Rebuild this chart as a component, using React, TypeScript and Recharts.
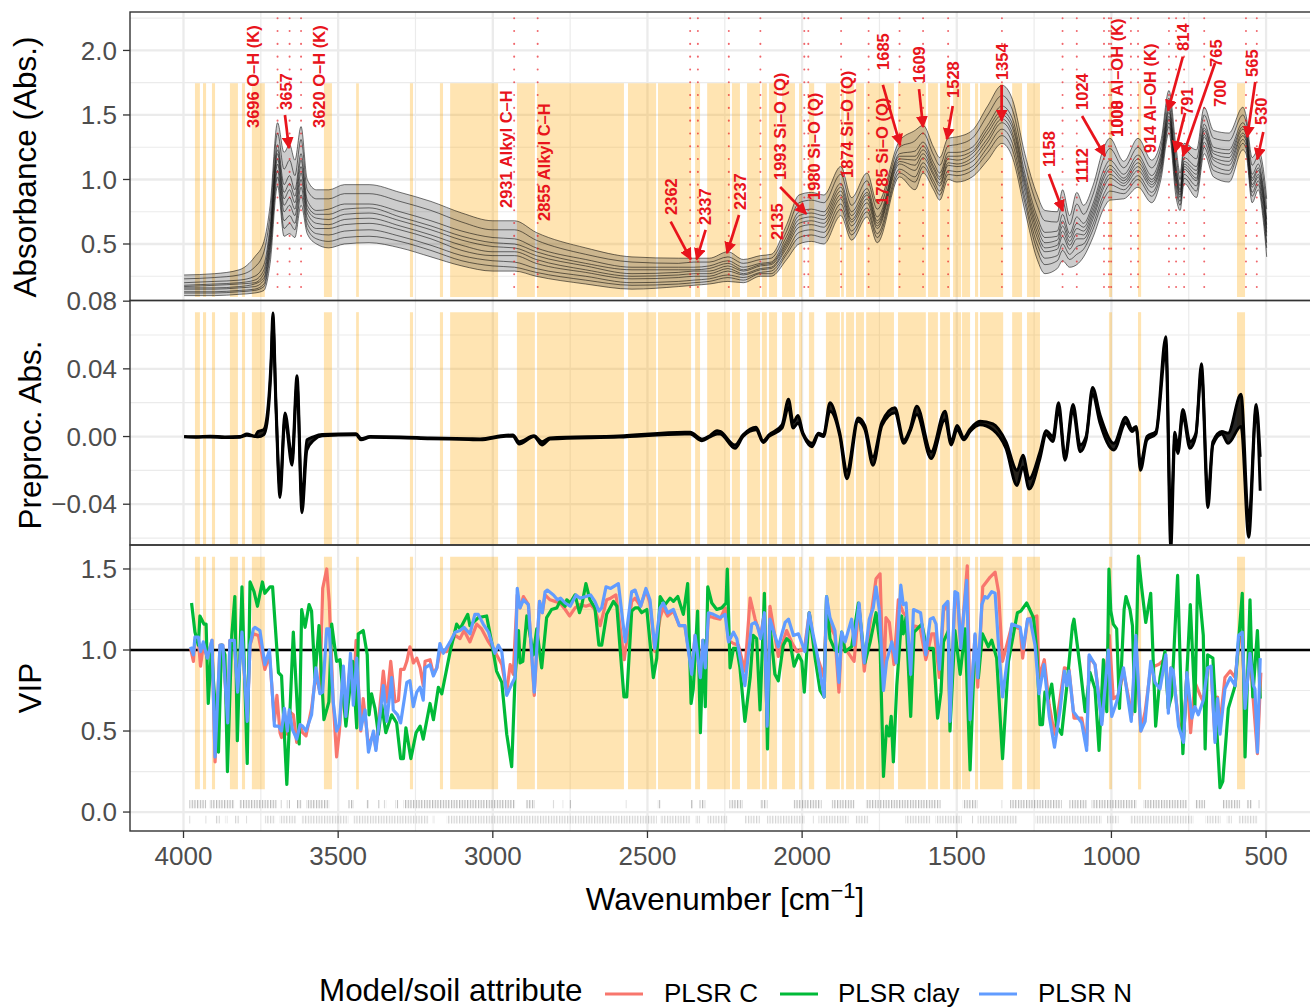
import React from "react";
import {
  ComposedChart, XAxis, YAxis, Line, Area, ReferenceLine, ReferenceArea, ReferenceDot,
} from "recharts";

const FONT = "'Liberation Sans', Arial, sans-serif";
const RED = "#E8141C";

const xTicks = [4000, 3500, 3000, 2500, 2000, 1500, 1000, 500];
const xMinor = [3750, 3250, 2750, 2250, 1750, 1250, 750];

const bands: [number, number][] = [
  [3963, 3947], [3937, 3927], [3908, 3898], [3850, 3824], [3811, 3801], [3779, 3737], [3546, 3520],
  [3442, 3433], [3268, 3258], [3171, 3161], [3138, 2983], [2922, 2864], [2857, 2576], [2563, 2472],
  [2466, 2359], [2346, 2330], [2307, 2233], [2227, 2201], [2178, 2136], [2130, 2114], [2107, 2081],
  [2065, 2023], [2010, 2000], [1978, 1961], [1923, 1878], [1874, 1865], [1858, 1832], [1826, 1800],
  [1793, 1703], [1690, 1600], [1593, 1561], [1554, 1522], [1512, 1486], [1483, 1457], [1441, 1431],
  [1425, 1350], [1321, 1289], [1273, 1231], [1008, 998], [914, 904], [594, 568],
];

const absWn = [3998,3900,3820,3770,3740,3720,3696,3675,3657,3640,3620,3600,3570,3530,3480,3400,3300,3200,3100,3000,2930,2860,2700,2550,2400,2350,2300,2240,2190,2135,2100,2050,2010,1970,1930,1875,1840,1790,1757,1685,1635,1609,1575,1555,1528,1500,1450,1400,1354,1320,1280,1240,1215,1175,1158,1135,1112,1090,1060,1024,1005,960,914,870,840,814,791,778,765,725,700,670,620,575,565,545,525,510,498];
const absLow = [.10,.10,.11,.12,.14,.35,.95,.56,.58,.55,.80,.58,.50,.47,.50,.51,.47,.40,.33,.29,.29,.25,.19,.15,.17,.18,.19,.21,.20,.25,.25,.38,.50,.52,.50,.72,.53,.71,.51,1.02,.92,1.05,.92,.84,1.00,.98,1.02,1.15,1.28,1.17,.76,.38,.27,.31,.37,.32,.34,.40,.55,.78,.84,.85,.94,.82,1.00,1.36,.86,.76,.97,.86,1.20,1.02,.98,1.23,1.20,.82,.92,.70,.40];
const absA = [.12,.12,.13,.14,.17,.42,1.02,.62,.66,.61,.88,.62,.54,.52,.55,.56,.52,.45,.37,.33,.32,.28,.22,.18,.19,.20,.21,.24,.22,.27,.27,.42,.55,.57,.55,.77,.57,.75,.55,1.05,.98,1.10,.96,.88,1.04,1.03,1.07,1.21,1.34,1.23,.82,.45,.34,.37,.45,.38,.42,.46,.61,.85,.91,.89,1.00,.87,1.04,1.41,.92,.80,1.01,.91,1.25,1.07,1.04,1.28,1.24,.87,.96,.75,.47];
const absH = [.13,.13,.14,.15,.19,.46,1.07,.68,.72,.66,.94,.66,.58,.57,.6,.61,.56,.49,.41,.37,.36,.31,.25,.2,.21,.22,.23,.26,.24,.28,.29,.44,.59,.61,.59,.81,.6,.78,.58,1.08,1.02,1.13,.99,.91,1.07,1.06,1.1,1.25,1.39,1.28,.86,.5,.39,.41,.5,.42,.48,.5,.65,.89,.96,.92,1.03,.9,1.07,1.44,.96,.83,1.04,.95,1.29,1.11,1.07,1.31,1.27,.9,.99,.79,.51];
const absB = [.15,.15,.16,.17,.22,.50,1.12,.75,.80,.72,1.00,.70,.62,.62,.65,.66,.61,.54,.45,.41,.41,.35,.28,.23,.24,.25,.25,.29,.26,.30,.31,.47,.63,.65,.63,.85,.64,.82,.62,1.12,1.07,1.17,1.03,.95,1.11,1.10,1.14,1.29,1.44,1.33,.91,.55,.44,.46,.56,.46,.54,.54,.69,.94,1.01,.95,1.07,.94,1.10,1.47,1.00,.86,1.08,.99,1.33,1.15,1.11,1.34,1.30,.94,1.02,.84,.56];
const absF = [.16,.16,.17,.19,.24,.53,1.16,.8,.86,.77,1.05,.74,.66,.65,.69,.7,.64,.57,.49,.44,.44,.38,.3,.25,.26,.27,.27,.31,.27,.31,.32,.49,.66,.68,.66,.88,.67,.85,.64,1.14,1.11,1.2,1.05,.97,1.13,1.12,1.17,1.32,1.47,1.36,.95,.59,.47,.49,.6,.49,.58,.57,.72,.97,1.04,.97,1.1,.96,1.12,1.49,1.02,.88,1.1,1.01,1.35,1.17,1.14,1.36,1.32,.96,1.04,.87,.59];
const absC = [.17,.18,.19,.20,.27,.57,1.20,.85,.92,.82,1.10,.77,.70,.69,.73,.74,.68,.61,.53,.48,.47,.41,.33,.27,.28,.29,.29,.33,.29,.33,.34,.51,.69,.71,.69,.91,.69,.88,.66,1.16,1.15,1.23,1.08,1.00,1.16,1.15,1.20,1.36,1.50,1.40,.98,.63,.51,.53,.64,.52,.62,.60,.75,1.01,1.08,.99,1.13,.98,1.15,1.52,1.05,.90,1.12,1.04,1.38,1.20,1.17,1.39,1.35,.99,1.07,.90,.62];
const absG = [.18,.19,.2,.22,.3,.6,1.23,.9,.97,.87,1.15,.8,.73,.73,.77,.78,.71,.64,.56,.51,.5,.44,.35,.3,.3,.3,.31,.35,.3,.34,.35,.53,.72,.74,.72,.94,.72,.9,.68,1.18,1.18,1.26,1.1,1.02,1.18,1.18,1.22,1.39,1.53,1.43,1.01,.67,.55,.56,.68,.55,.66,.63,.78,1.04,1.11,1.01,1.16,1.0,1.17,1.54,1.08,.92,1.14,1.07,1.4,1.22,1.2,1.41,1.37,1.01,1.09,.93,.65];
const absD = [.20,.21,.22,.25,.34,.64,1.27,.96,1.03,.92,1.20,.84,.76,.77,.81,.81,.75,.68,.60,.55,.54,.47,.38,.32,.32,.32,.33,.37,.32,.35,.36,.56,.75,.77,.75,.97,.75,.93,.71,1.20,1.22,1.29,1.13,1.05,1.21,1.21,1.25,1.42,1.57,1.47,1.05,.71,.59,.60,.73,.58,.71,.66,.81,1.08,1.15,1.04,1.19,1.03,1.20,1.57,1.11,.95,1.17,1.10,1.43,1.25,1.23,1.44,1.40,1.04,1.12,.96,.69];
const absE = [.23,.24,.26,.32,.44,.72,1.36,1.08,1.15,1.03,1.31,.92,.85,.85,.89,.89,.83,.76,.67,.61,.61,.53,.42,.36,.35,.36,.36,.40,.35,.38,.39,.60,.82,.84,.82,1.04,.80,.99,.77,1.25,1.30,1.36,1.19,1.11,1.26,1.27,1.32,1.50,1.65,1.54,1.12,.80,.68,.67,.83,.65,.81,.73,.88,1.17,1.24,1.09,1.25,1.09,1.25,1.63,1.18,1.00,1.23,1.16,1.50,1.32,1.30,1.50,1.45,1.11,1.18,1.03,.77];
const absHigh = [.26,.27,.30,.40,.52,.80,1.44,1.21,1.27,1.15,1.41,1.00,.92,.92,.96,.96,.90,.83,.74,.68,.68,.59,.47,.40,.39,.39,.39,.44,.38,.41,.42,.65,.88,.90,.88,1.10,.86,1.05,.82,1.30,1.38,1.42,1.25,1.17,1.32,1.33,1.38,1.57,1.73,1.62,1.20,.88,.76,.75,.92,.72,.90,.80,.95,1.25,1.32,1.14,1.32,1.15,1.30,1.69,1.25,1.05,1.28,1.23,1.56,1.38,1.36,1.56,1.50,1.17,1.23,1.10,.85];

const peakWn = [3696,3657,3620,2931,2855,2362,2337,2237,2135,1993,1980,1874,1785,1685,1609,1528,1354,1158,1112,1024,1008,1001,937,914,814,791,765,700,565,530];
const peakText = ["3696 O–H (K)","3657","3620 O–H (K)","2931 Alkyl C–H","2855 Alkyl C–H","2362","2337","2237","2135","1993 Si–O (Q)","1980 Si–O (Q)","1874 Si–O (Q)","1785 Si–O (Q)","1685","1609","1528","1354","1158","1112","1024","1008","1000 Al–OH (K)","914 Al–OH (K)","814","791","765","700","565","530"];
const textWn = [3775,3669,3562,2957,2834,2424,2314,2201,2081,2071,1961,1855,1742,1739,1622,1513,1354,1202,1095,1095,982,982,875,769,756,663,650,547,515];
const textAbs = [1.399,1.539,1.399,.779,.678,.725,.647,.764,.531,.996,.841,1.012,.802,1.849,1.748,1.632,1.771,1.097,.973,1.539,1.329,1.329,1.205,1.996,1.5,1.872,1.562,1.795,1.422];

const arrowFromWn = [3672,2425,2312,2204,2071,1739,1622,1513,1355,1202,1095,769,762,665,535,509];
const arrowFromAbs = [1.50,.673,.609,.725,.942,1.733,1.70,1.57,1.733,1.043,1.492,1.952,1.516,1.903,1.756,1.368];
const arrowToWn = [3659,2360,2341,2243,1987,1683,1609,1532,1355,1157,1021,817,794,769,561,528];
const arrowToAbs = [1.244,.381,.381,.43,.733,1.267,1.407,1.314,1.456,.756,1.182,1.533,1.213,1.182,1.329,1.159];

const preWn = [3998,3960,3914,3866,3817,3795,3769,3759,3741,3730,
  3717,3711,3701,3688,3672,3649,3633,3617,3601,3578,
  3552,3442,3426,3397,3300,3203,3077,3041,2957,2935,
  2915,2867,2841,2815,2592,2379,2362,2324,2298,2275,
  2265,2217,2191,2149,2126,2107,2065,2044,2029,2013,
  1997,1968,1947,1931,1910,1878,1855,1819,1797,1771,
  1742,1700,1671,1651,1629,1583,1538,1518,1499,1477,
  1457,1425,1383,1341,1305,1286,1266,1231,1211,1189,
  1171,1150,1124,1101,1082,1061,1037,992,954,933,
  920,906,885,856,824,808,795,785,769,746,
  727,709,688,672,643,623,581,556,532,519];
const preUpper = [.0001,-.0001,.0002,-.0002,0,.0015,.0003,.003,.004,.012,
  .045,.073,.02,-.03,.014,-.012,.036,-.038,-.002,0,
  .0012,.0017,-.0012,0,-.0002,-.0008,-.0013,-.0014,.0008,.0009,
  -.003,.0005,-.003,-.0008,.0003,.0025,.0025,-.0015,.0005,.0035,
  .003,-.005,.001,.0055,-.0025,.001,.007,.022,.0085,.0125,
  .002,-.004,.002,.001,.020,.002,-.02,.011,.0065,-.012,
  .0085,.017,-.002,.0045,.018,-.009,.015,-.003,.0065,-.0005,
  .0045,.009,.0075,-.003,-.02,-.011,-.025,-.009,.0035,0,
  .020,-.011,.019,-.005,0,.029,.013,-.004,.0115,.0045,
  .006,-.016,0,.003,.059,-.05,.0025,-.006,.016,-.003,
  .002,.043,-.034,-.003,.003,.002,.025,-.05,.019,-.012];
const preLower = [-.0002,-.0004,-.0003,-.0006,-.0004,.0008,0,-.0002,.001,.008,
  .04,.066,.016,-.036,.010,-.017,.030,-.045,-.008,-.002,
  .0004,.001,-.002,-.0005,-.0007,-.0013,-.0018,-.002,.0002,.0002,
  -.0045,0,-.005,-.0015,-.0003,.0015,.0015,-.0025,-.0003,.0015,
  .0015,-.007,0,.004,-.0035,0,.005,.017,.005,.008,
  .001,-.006,.001,0,.015,0,-.025,.009,.004,-.017,
  .0065,.014,-.004,.003,.013,-.013,.010,-.005,.004,-.002,
  .003,.007,.004,-.007,-.029,-.018,-.031,-.013,.001,-.003,
  .016,-.014,.015,-.009,-.002,.025,.008,-.008,.008,.003,
  .005,-.020,-.002,.0015,.05,-.066,-.002,-.01,.012,-.007,
  .0005,.038,-.042,-.005,.0015,-.004,.006,-.0595,.016,-.032];

const vipClay: [number, number][] = [
  [3974,1.29],[3963,1.11],[3952,1.03],[3947,1.21],[3934,1.16],[3927,1.16],[3920,.67],[3909,1.03],[3904,.83],[3887,.37],[3877,1.03],[3866,.97],[3858,.25],[3844,1.09],[3834,1.33],[3826,.44],[3811,1.39],[3794,.30],[3785,1.42],[3772,1.36],[3761,1.27],[3745,1.42],[3737,1.35],[3720,1.39],[3712,1.39],[3693,.86],[3683,.84],[3666,.17],[3645,1.11],[3626,.42],[3618,1.25],[3607,1.14],[3594,1.28],[3586,1.24],[3575,.83],[3562,1.15],[3546,.57],[3530,.68],[3521,1.16],[3505,.93],[3494,.94],[3475,.53],[3453,.93],[3440,.52],[3435,1.10],[3419,1.12],[3406,.97],[3400,.60],[3392,.73],[3381,.64],[3370,.48],[3359,.66],[3346,.49],[3327,.60],[3311,.55],[3298,.33],[3289,.33],[3281,.52],[3265,.33],[3248,.49],[3235,.53],[3225,.45],[3203,.67],[3192,.57],[3176,.77],[3165,.73],[3138,.99],[3117,1.16],[3106,1.13],[3081,1.22],[3074,1.15],[3047,1.20],[3020,1.21],[3004,1.05],[2988,.87],[2971,.80],[2955,.48],[2939,.28],[2928,.83],[2917,1.12],[2912,.92],[2903,.93],[2890,1.21],
  [2869,.97],[2858,1.13],[2842,.89],[2826,1.20],[2810,1.25],[2793,1.26],[2783,1.30],[2766,1.27],[2761,1.31],[2750,1.29],[2734,1.34],[2720,1.23],[2713,1.27],[2699,1.41],[2686,1.31],[2670,1.26],[2657,1.03],[2648,1.03],[2632,1.22],[2610,1.30],[2599,1.27],[2589,1.02],[2576,.71],[2567,.71],[2551,1.24],[2540,1.26],[2529,1.26],[2519,1.23],[2502,1.25],[2481,.83],[2470,.95],[2459,1.33],[2443,1.28],[2427,1.32],[2416,1.30],[2402,1.33],[2384,1.22],[2370,1.41],[2359,.67],[2352,.76],[2338,1.24],[2329,.49],[2319,1.06],[2313,.65],[2305,1.39],[2292,1.29],[2276,1.25],[2260,1.26],[2246,1.29],[2242,1.50],[2233,.89],[2222,1.01],[2211,1.01],[2201,.89],[2185,.56],[2168,.83],[2158,1.09],[2147,1.07],[2136,.63],[2122,1.35],[2112,.39],[2104,1.15],[2088,.85],[2077,.81],[2061,1.03],[2050,1.07],[2039,1.05],[2026,.90],[2012,.97],[2001,.93],[1993,.74],[1977,1.23],[1958,.95],[1942,.75],[1929,.71],[1921,1.33],[1910,1.07],[1894,1.00],[1881,.99],[1872,1.11],[1861,.99],[1840,1.02],[1818,1.29],[1797,.92],[1780,1.05],[1761,1.23],[1748,1.03],[1737,.22],[1727,.53],[1719,.47],[1712,.59],[1705,.31],[1694,.78],[1678,1.21],[1673,1.10],[1664,1.20],[1649,.59],
  [1638,1.11],[1613,1.16],[1597,1.01],[1576,1.01],[1562,.58],[1551,.74],[1543,1.05],[1527,1.12],[1522,.50],[1506,1.12],[1489,.85],[1473,1.13],[1457,.26],[1441,1.05],[1430,.83],[1417,1.10],[1398,1.02],[1387,1.06],[1371,.95],[1352,.33],[1333,.93],[1304,1.23],[1293,1.24],[1274,1.29],[1252,1.20],[1241,.99],[1231,.54],[1223,.54],[1215,.74],[1204,.70],[1193,.79],[1177,.53],[1161,.48],[1144,.78],[1126,1.15],[1121,1.19],[1101,.89],[1085,.62],[1069,.86],[1053,.76],[1040,.38],[1026,.94],[1015,.62],[1008,1.50],[1002,1.24],[994,1.16],[983,1.13],[974,.64],[959,1.25],[953,1.33],[940,1.25],[932,1.15],[924,.62],[913,1.58],[902,1.38],[889,1.17],[873,1.35],[857,.53],[843,.83],[827,.99],[816,.64],[805,.72],[786,1.46],[769,.36],[745,1.28],[730,.66],[721,1.46],[703,1.09],[697,.39],[689,.97],[672,.95],[649,.15],[640,.19],[622,.64],[600,.78],[577,1.35],[568,.34],[552,1.31],[543,.71],[528,1.12],[519,.70],
];

const vipN: [number, number][] = [
  [3977,1.02],[3968,.97],[3963,1.08],[3952,1.08],[3945,.99],[3936,1.05],[3923,.95],[3908,1.06],[3898,.34],[3882,1.03],[3873,1.03],[3857,.55],[3850,1.06],[3836,1.06],[3825,.74],[3811,1.11],[3794,.56],[3785,1.03],[3774,1.13],[3769,1.14],[3753,1.12],[3737,.91],[3722,1.00],[3706,.53],[3693,.53],[3683,.50],[3674,.64],[3664,.50],[3658,.63],[3648,.51],[3634,.45],[3623,.54],[3615,.53],[3604,.50],[3586,.60],[3572,.89],[3559,.73],[3550,.74],[3537,1.13],[3529,1.13],[3516,.68],[3505,.50],[3496,.54],[3483,.90],[3475,.59],[3460,.98],[3451,.66],[3440,.95],[3427,.51],[3413,.63],[3402,.37],[3386,.50],[3378,.38],[3354,.78],[3343,.56],[3327,.83],[3322,.63],[3308,.60],[3298,.55],[3278,.80],[3268,.81],[3257,.65],[3246,.74],[3235,.77],[3225,.69],[3219,.89],[3203,.91],[3192,.84],[3181,.89],[3171,1.04],[3160,.98],[3138,1.05],[3122,1.11],[3106,1.12],[3093,1.14],[3074,1.10],[3058,1.22],[3047,1.22],[3031,1.16],[3014,1.11],[2993,.98],[2982,1.03],[2971,.99],[2955,.72],[2939,.79],[2928,.83],[2921,1.38],
  [2912,1.26],[2901,1.31],[2885,1.28],[2866,.74],[2849,1.30],[2840,1.23],[2831,1.36],[2824,1.37],[2804,1.34],[2791,1.31],[2781,1.32],[2766,1.29],[2750,1.27],[2731,1.34],[2718,1.32],[2699,1.33],[2684,1.34],[2670,1.30],[2657,1.24],[2648,1.26],[2634,1.39],[2619,1.38],[2594,1.41],[2572,1.05],[2551,1.36],[2540,1.37],[2522,1.27],[2505,1.38],[2492,1.31],[2476,1.01],[2459,1.26],[2449,1.29],[2435,1.23],[2416,1.25],[2397,1.15],[2379,1.15],[2357,.85],[2346,1.09],[2329,.83],[2321,1.06],[2313,.89],[2303,1.23],[2287,1.22],[2265,1.20],[2249,1.22],[2238,1.05],[2222,1.11],[2211,1.07],[2185,.78],[2163,1.16],[2152,1.17],[2145,1.15],[2134,1.07],[2122,1.23],[2113,.53],[2104,1.19],[2077,1.02],[2055,1.17],[2044,1.19],[2028,1.09],[2012,1.10],[1991,.99],[1977,1.23],[1964,1.09],[1953,.99],[1929,.71],[1921,1.33],[1910,1.20],[1894,1.12],[1881,.80],[1872,1.11],[1861,1.05],[1840,1.19],[1832,1.03],[1816,1.29],[1799,.92],[1783,1.19],[1770,1.26],[1761,1.39],[1750,1.24],[1737,.75],[1727,.93],[1710,1.05],[1696,.92],[1681,1.40],[1673,1.28],[1664,1.29],[1649,.85],
  [1640,1.25],[1617,1.23],[1600,.97],[1586,1.19],[1576,1.20],[1567,1.16],[1556,.88],[1543,1.27],[1529,1.30],[1522,.56],[1506,1.36],[1497,1.35],[1487,1.01],[1468,1.43],[1457,.57],[1441,1.10],[1432,.83],[1419,1.28],[1409,1.33],[1401,1.32],[1387,1.36],[1376,1.35],[1365,1.03],[1352,.71],[1322,1.16],[1295,1.14],[1285,1.01],[1271,1.19],[1263,1.19],[1247,1.03],[1234,.73],[1218,.91],[1201,.59],[1184,.40],[1166,.63],[1152,.87],[1144,.78],[1137,.87],[1123,.62],[1096,.55],[1080,.38],[1072,.97],[1053,.91],[1031,.54],[1010,1.00],[999,.59],[983,.68],[961,.89],[936,.56],[921,1.09],[905,.50],[891,.56],[873,.93],[859,.80],[843,.76],[824,.97],[816,.61],[808,.89],[800,.87],[783,.53],[767,.43],[756,.86],[740,.58],[730,.65],[719,.60],[703,.69],[689,.89],[678,.90],[665,.43],[657,.70],[649,.48],[633,.76],[616,.83],[600,.78],[589,1.09],[577,1.11],[568,.64],[552,.98],[541,.78],[536,.76],[528,.37],[519,.95],
];

const vipC: [number, number][] = [
  [3977,1.01],[3968,.93],[3963,1.06],[3952,1.06],[3945,.90],[3936,1.03],[3923,.95],[3908,1.06],[3898,.31],[3882,1.03],[3873,1.03],[3857,.55],[3850,1.06],[3836,1.06],[3825,.76],[3811,1.11],[3794,.56],[3785,1.03],[3774,1.10],[3758,1.09],[3737,.88],[3722,.97],[3706,.56],[3698,.72],[3688,.49],[3683,.46],[3674,.58],[3664,.48],[3658,.62],[3645,.60],[3634,.43],[3623,.53],[3615,.49],[3604,.47],[3586,.64],[3572,.85],[3559,.74],[3550,1.38],[3537,1.50],[3529,1.30],[3516,.68],[3505,.34],[3496,.50],[3483,.87],[3475,.59],[3460,.93],[3451,.72],[3442,1.06],[3427,.50],[3419,.70],[3402,.41],[3386,.48],[3378,.39],[3354,.87],[3343,.68],[3330,.93],[3316,.68],[3305,.69],[3298,.88],[3287,.88],[3278,.93],[3268,1.02],[3257,.92],[3246,.95],[3235,.89],[3225,.78],[3219,.93],[3203,.94],[3192,.85],[3181,.89],[3171,.99],[3149,.99],[3122,1.09],[3106,1.07],[3093,1.12],[3074,1.05],[3052,1.16],[3036,1.13],[3014,1.05],[2993,.99],[2971,.91],[2955,.74],[2944,.91],[2934,.85],[2921,1.34],
  [2912,1.26],[2901,1.33],[2885,1.28],[2866,.72],[2849,1.30],[2840,1.23],[2831,1.34],[2815,1.31],[2799,1.30],[2783,1.29],[2766,1.25],[2752,1.21],[2734,1.26],[2718,1.28],[2699,1.27],[2684,1.28],[2670,1.25],[2653,1.15],[2632,1.31],[2619,1.32],[2602,1.34],[2575,.94],[2551,1.30],[2540,1.32],[2522,1.27],[2505,1.37],[2492,1.29],[2476,.99],[2459,1.20],[2449,1.26],[2435,1.21],[2416,1.24],[2397,1.15],[2379,1.15],[2357,.87],[2346,1.09],[2329,.84],[2321,1.06],[2313,.89],[2303,1.21],[2287,1.20],[2265,1.19],[2249,1.26],[2238,1.06],[2222,1.04],[2206,1.03],[2185,.87],[2168,1.32],[2152,1.19],[2145,1.15],[2134,1.09],[2122,1.23],[2113,.53],[2104,1.27],[2077,.96],[2050,1.12],[2034,1.05],[2017,.99],[2001,1.00],[1991,1.03],[1977,1.23],[1964,1.07],[1953,.97],[1929,.83],[1921,1.32],[1910,1.15],[1894,1.09],[1881,.74],[1872,1.09],[1861,1.01],[1832,.93],[1816,1.28],[1799,.87],[1783,1.13],[1761,1.44],[1748,1.47],[1737,.76],[1729,1.20],[1718,1.17],[1703,.91],[1689,1.31],[1673,1.23],[1664,1.21],[1649,.89],
  [1640,1.15],[1619,1.14],[1600,.94],[1581,1.10],[1572,1.10],[1556,.83],[1543,1.24],[1529,1.29],[1522,.60],[1506,1.32],[1497,1.30],[1487,1.01],[1466,1.52],[1457,.60],[1441,1.09],[1432,.77],[1416,1.39],[1392,1.45],[1376,1.48],[1365,1.36],[1352,.93],[1322,1.15],[1295,1.13],[1287,.95],[1271,1.19],[1241,1.21],[1234,.83],[1217,.94],[1201,.66],[1184,.48],[1166,.70],[1152,.89],[1137,.88],[1121,.58],[1096,.58],[1080,.41],[1072,.96],[1053,.91],[1031,.56],[1007,1.09],[994,.70],[977,.72],[961,.87],[934,.60],[921,1.03],[905,.50],[891,.62],[873,.89],[848,.91],[824,.95],[816,.64],[808,.89],[800,.85],[783,.56],[767,.46],[756,.86],[744,.49],[730,.80],[713,.72],[703,.68],[689,.89],[678,.89],[665,.45],[657,.71],[649,.54],[633,.83],[616,.87],[600,.83],[584,1.11],[577,1.05],[568,.66],[552,.97],[541,.68],[528,.36],[517,.86],
];

const rugRowOne: [number, number][] = [
  [3981,3927],[3916,3834],[3820,3699],[3688,3683],[3666,3656],[3634,3618],[3604,3529],[3467,3449],[3410,3401],[3370,3365],[3352,3345],[3316,3306],[3289,2928],[2893,2864],[2806,2802],[2774,2770],[2752,2747],[2572,2568],[2467,2457],[2360,2352],[2332,2313],[2235,2192],[2136,2112],[2028,1937],[1904,1831],[1794,1552],[1481,1433],[1357,1353],[1328,1161],[1136,1080],[1064,918],[897,756],[730,697],[640,584],[562,546],[524,520],
];
const rugRowTwo: [number, number][] = [
  [3981,3977],[3929,3925],[3898,3882],[3866,3858],[3834,3820],[3798,3794],[3737,3704],[3690,3634],[3618,3467],[3451,3208],[3194,3187],[3149,2470],[2459,2362],[2346,2330],[2306,2242],[2185,2136],[2114,1991],[1966,1962],[1947,1850],[1829,1786],[1667,1586],[1570,1484],[1451,1447],[1433,1304],[1247,1031],[1015,977],[940,735],[697,647],[627,611],[589,527],
];

const legendNames = ["PLSR C", "PLSR clay", "PLSR N"];
const legendColors = ["#F8766D", "#00BA38", "#619CFF"];

const absTable = absWn.map((wn, i) => ({
  wn, lo: absLow[i], a: absA[i], h: absH[i], b: absB[i], f: absF[i], c: absC[i], g: absG[i], d: absD[i], e: absE[i], hi: absHigh[i],
}));
const preTable = preWn.map((wn, i) => ({ wn, up: preUpper[i], lo: preLower[i] }));
const toRows = (p: [number, number][]) => p.map(([wn, v]) => ({ wn, v }));

type PanelCfg = { top: number; bottom: number; domain: [number, number]; ticks: number[]; fmt: (v: number) => string };
const P1: PanelCfg = { top: 12, bottom: 300, domain: [0.066, 2.298], ticks: [0.5, 1, 1.5, 2], fmt: (v) => v.toFixed(1) };
const P2: PanelCfg = { top: 301, bottom: 545, domain: [-0.0641, 0.0801], ticks: [-0.04, 0, 0.04, 0.08], fmt: (v) => v.toFixed(2).replace("-", "−") };
const P3: PanelCfg = { top: 545, bottom: 831, domain: [-0.117, 1.648], ticks: [0, 0.5, 1, 1.5], fmt: (v) => v.toFixed(1) };

const tickStyle = { fill: "#4D4D4D", fontSize: 26, fontFamily: FONT };

function Layer({ p, axes, xAxis, data, children }: { p: PanelCfg; axes?: boolean; xAxis?: boolean; data?: any[]; children?: React.ReactNode }) {
  return (
    <div style={{ position: "absolute", left: 0, top: 0, pointerEvents: "none" }}>
      <ComposedChart
        width={1310}
        height={1008}
        data={data}
        margin={{ top: p.top, bottom: xAxis ? 1008 - p.bottom - 45 : 1008 - p.bottom, left: axes ? 0 : 130, right: 0 }}
      >
        <XAxis
          dataKey="wn"
          type="number"
          reversed
          domain={[358, 4173]}
          allowDataOverflow
          ticks={xTicks}
          interval={0}
          hide={!xAxis}
          height={45}
          axisLine={false}
          tick={tickStyle}
          tickLine={{ stroke: "#333333", strokeWidth: 1.3 }}
          tickSize={7}
          tickMargin={9}
        />
        <YAxis
          type="number"
          domain={p.domain}
          allowDataOverflow
          ticks={p.ticks}
          interval={0}
          hide={!axes}
          width={130}
          axisLine={false}
          tick={tickStyle}
          tickFormatter={p.fmt}
          tickLine={{ stroke: "#333333", strokeWidth: 1.3 }}
          tickSize={7}
          tickMargin={6}
        />
        {children}
      </ComposedChart>
    </div>
  );
}

function gridLines(major: number[], minor: number[]) {
  return [
    ...minor.map((v) => <ReferenceLine key={"hn" + v} y={v} stroke="#EBEBEB" strokeWidth={1.2} />),
    ...major.map((v) => <ReferenceLine key={"hm" + v} y={v} stroke="#EBEBEB" strokeWidth={2.3} />),
    ...xMinor.map((v) => <ReferenceLine key={"vn" + v} x={v} stroke="#EBEBEB" strokeWidth={1.2} />),
    ...xTicks.map((v) => <ReferenceLine key={"vm" + v} x={v} stroke="#EBEBEB" strokeWidth={2.3} />),
  ];
}

function bandRects(y1: number, y2: number) {
  return bands.map(([a, b]) => (
    <ReferenceArea key={a} x1={a} x2={b} y1={y1} y2={y2} fill="orange" fillOpacity={0.3} stroke="none" ifOverflow="visible" />
  ));
}

const spectrumKeys = ["lo", "a", "h", "b", "f", "c", "g", "d", "e", "hi"];

const Arrow = (props: any) => (
  <line x1={props.x1} y1={props.y1} x2={props.x2} y2={props.y2} stroke={RED} strokeWidth={2.7} markerEnd="url(#redArrow)" />
);

export default function App() {
  return (
    <div style={{ position: "absolute", left: 0, top: 0, width: 1310, height: 1008, overflow: "hidden", background: "#fff" }}>
      <svg width={0} height={0} style={{ position: "absolute" }}>
        <defs>
          <marker id="redArrow" viewBox="0 0 10 10" refX="9" refY="5" markerWidth="12" markerHeight="12" markerUnits="userSpaceOnUse" orient="auto">
            <path d="M0,0 L10,5 L0,10 Z" fill={RED} />
          </marker>
          <pattern id="rugOne" width="2.7" height="10" patternUnits="userSpaceOnUse">
            <rect width="1.2" height="10" fill="#000" fillOpacity="0.55" />
          </pattern>
          <pattern id="rugTwo" width="2.7" height="10" patternUnits="userSpaceOnUse">
            <rect width="1.2" height="10" fill="#000" fillOpacity="0.35" />
          </pattern>
        </defs>
      </svg>

      {/* Panel 1 */}
      <Layer p={P1} axes>{gridLines([0.5, 1, 1.5, 2], [0.25, 0.75, 1.25, 1.75, 2.25])}</Layer>
      <Layer p={P1}>{bandRects(0.09, 1.745)}</Layer>
      <Layer p={P1} data={absTable}>
        <Area type="monotone" dataKey={(d: any) => [d.lo, d.hi]} stroke="none" fill="#000" fillOpacity={0.2} isAnimationActive={false} dot={false} activeDot={false} />
        {spectrumKeys.map((k) => (
          <Line key={k} type="monotone" dataKey={k} stroke="#000" strokeOpacity={0.6} strokeWidth={0.9} dot={false} activeDot={false} isAnimationActive={false} />
        ))}
      </Layer>
      <Layer p={P1}>
        {peakWn.map((w) => (
          <ReferenceLine key={"d" + w} segment={[{ x: w, y: 2.25 }, { x: w, y: 0.09 }]} stroke={RED} strokeOpacity={0.65} strokeWidth={2} strokeLinecap="round" strokeDasharray="0.1 12.7" />
        ))}
        {arrowFromWn.map((w, i) => (
          <ReferenceLine key={"a" + i} segment={[{ x: w, y: arrowFromAbs[i] }, { x: arrowToWn[i], y: arrowToAbs[i] }]} shape={Arrow} />
        ))}
        {peakText.map((t, i) => (
          <ReferenceDot
            key={"t" + i}
            x={textWn[i]}
            y={textAbs[i]}
            r={0}
            ifOverflow="visible"
            shape={(s: any) => (
              <text x={s.cx} y={s.cy} transform={`rotate(-90 ${s.cx} ${s.cy})`} dominantBaseline="central" fill={RED} fontSize={16.5} fontWeight={700} fontFamily={FONT}>{t}</text>
            )}
          />
        ))}
      </Layer>

      {/* Panel 2 */}
      <Layer p={P2} axes>{gridLines([-0.04, 0, 0.04], [-0.06, -0.02, 0.02, 0.06])}</Layer>
      <Layer p={P2}>{bandRects(-0.0641, 0.0735)}</Layer>
      <Layer p={P2} data={preTable}>
        <Area type="monotone" dataKey={(d: any) => [d.lo, d.up]} stroke="none" fill="#000" fillOpacity={0.85} isAnimationActive={false} dot={false} activeDot={false} />
        <Line type="monotone" dataKey="up" stroke="#000" strokeWidth={2.9} dot={false} activeDot={false} isAnimationActive={false} />
        <Line type="monotone" dataKey="lo" stroke="#000" strokeWidth={2.9} dot={false} activeDot={false} isAnimationActive={false} />
      </Layer>

      {/* Panel 3 */}
      <Layer p={P3} axes xAxis>{gridLines([0, 0.5, 1, 1.5], [0.25, 0.75, 1.25])}</Layer>
      <Layer p={P3}>
        {bandRects(0.14, 1.575)}
      </Layer>
      <Layer p={P3}>
        <ReferenceLine y={1} stroke="#000" strokeWidth={2.4} />
      </Layer>
      <Layer p={P3}>
        {rugRowOne.map(([a, b]) => (
          <ReferenceArea key={"r1" + a} x1={a} x2={b} y1={0.023} y2={0.074} fill="url(#rugOne)" stroke="none" />
        ))}
        {rugRowTwo.map(([a, b]) => (
          <ReferenceArea key={"r2" + a} x1={a} x2={b} y1={-0.07} y2={-0.023} fill="url(#rugTwo)" stroke="none" />
        ))}
      </Layer>
      <Layer p={P3}>
        <Line data={toRows(vipC)} dataKey="v" name="PLSR C" stroke={legendColors[0]} strokeWidth={3.2} strokeLinejoin="round" dot={false} activeDot={false} isAnimationActive={false} />
        <Line data={toRows(vipClay)} dataKey="v" name="PLSR clay" stroke={legendColors[1]} strokeWidth={3.2} strokeLinejoin="round" dot={false} activeDot={false} isAnimationActive={false} />
        <Line data={toRows(vipN)} dataKey="v" name="PLSR N" stroke={legendColors[2]} strokeWidth={3.2} strokeLinejoin="round" dot={false} activeDot={false} isAnimationActive={false} />
      </Layer>

      {/* Frames, titles, legend */}
      <svg width={1310} height={1008} style={{ position: "absolute", left: 0, top: 0, pointerEvents: "none" }} fontFamily={FONT}>
        <rect x={130} y={12} width={1182} height={288.5} fill="none" stroke="#333333" strokeWidth={1.4} />
        <rect x={130} y={300.5} width={1182} height={244.5} fill="none" stroke="#333333" strokeWidth={1.4} />
        <rect x={130} y={545} width={1182} height={286} fill="none" stroke="#333333" strokeWidth={1.4} />
        <text transform="translate(36 167) rotate(-90)" textAnchor="middle" fontSize={31.5} fill="#000">Absorbance (Abs.)</text>
        <text transform="translate(41 435) rotate(-90)" textAnchor="middle" fontSize={31.5} fill="#000">Preproc. Abs.</text>
        <text transform="translate(41 688) rotate(-90)" textAnchor="middle" fontSize={31.5} fill="#000">VIP</text>
        <text x={725} y={910} textAnchor="middle" fontSize={31.4} fill="#000">
          Wavenumber [cm<tspan dy={-12} fontSize={22}>−1</tspan><tspan dy={12}>]</tspan>
        </text>
        <text x={319} y={1001} fontSize={31.4} fill="#000">Model/soil attribute</text>
        {legendNames.map((name, i) => {
          const keyX = [605, 780, 979][i];
          const textX = [664, 838, 1038][i];
          return (
            <g key={name}>
              <line x1={keyX} x2={keyX + 38} y1={994} y2={994} stroke={legendColors[i]} strokeWidth={3} />
              <text x={textX} y={1002} fontSize={26} fill="#000">{name}</text>
            </g>
          );
        })}
      </svg>
    </div>
  );
}
